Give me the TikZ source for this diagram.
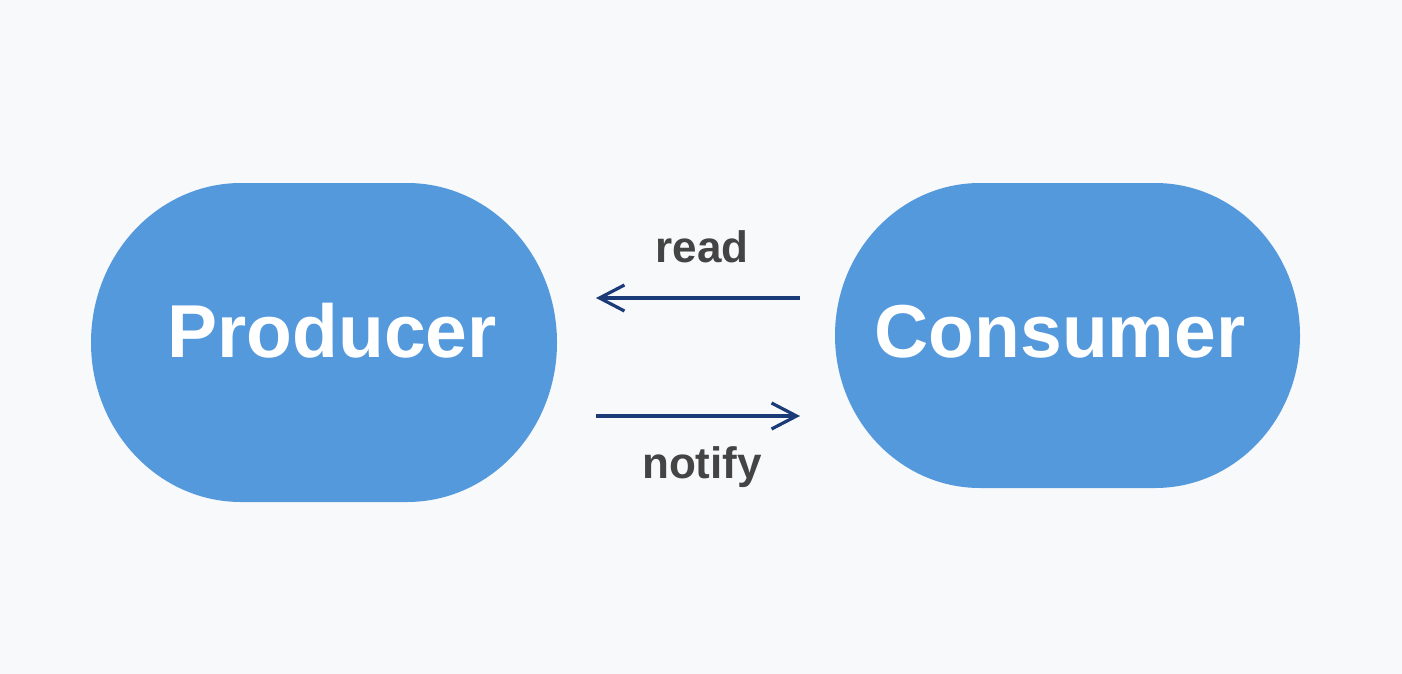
\documentclass[tikz,border=0pt]{standalone}
\usepackage{fontspec}
\setmainfont{Liberation Sans}
\usetikzlibrary{arrows.meta}
\definecolor{bg}{HTML}{F8F9FB}
\definecolor{blob}{HTML}{5599DD}
\definecolor{navy}{HTML}{1B3B78}
\definecolor{txt}{HTML}{444444}
\tikzset{
  blobfill/.style={fill=blob},
  bigtext/.style={anchor=base,text=white,inner sep=0pt,font=\fontsize{75}{90}\selectfont\bfseries},
  smalltext/.style={anchor=base,text=txt,inner sep=0pt,font=\fontsize{44}{52}\selectfont\bfseries},
  flow/.style={draw=navy,line width=3.2pt,-{Straight Barb[length=25pt,width=26pt]}}
}
\begin{document}
\begin{tikzpicture}[x=1pt,y=-1pt]
\fill[bg] (0,0) rectangle (1402,674);
\useasboundingbox (0,0) rectangle (1402,674);
% Producer shape
\fill[blobfill] (241,183) -- (407,183)
  .. controls (489.8,183) and (557,254.4) .. (557,342.5)
  .. controls (557,430.6) and (489.8,502) .. (407,502)
  -- (241,502)
  .. controls (158.2,502) and (91,430.6) .. (91,342.5)
  .. controls (91,254.4) and (158.2,183) .. (241,183) -- cycle;
% Consumer shape
\fill[blobfill] (980,183) -- (1155,183)
  .. controls (1235.1,183) and (1300,251.3) .. (1300,335.5)
  .. controls (1300,419.7) and (1235.1,488) .. (1155,488)
  -- (980,488)
  .. controls (899.9,488) and (835,419.7) .. (835,335.5)
  .. controls (835,251.3) and (899.9,183) .. (980,183) -- cycle;
\node[bigtext] (prod) at (332,357) {Producer};
\node[bigtext] (cons) at (1060,357) {Consumer};
\coordinate (readstart) at (800,298);
\coordinate (readend) at (596,298);
\coordinate (notstart) at (596,416);
\coordinate (notend) at (800,416);
\draw[flow] (readstart) -- (readend);
\draw[flow] (notstart) -- (notend);
\node[smalltext] (readlbl) at (702,262) {read};
\node[smalltext] (notlbl) at (702,478) {notify};
\end{tikzpicture}
\end{document}
